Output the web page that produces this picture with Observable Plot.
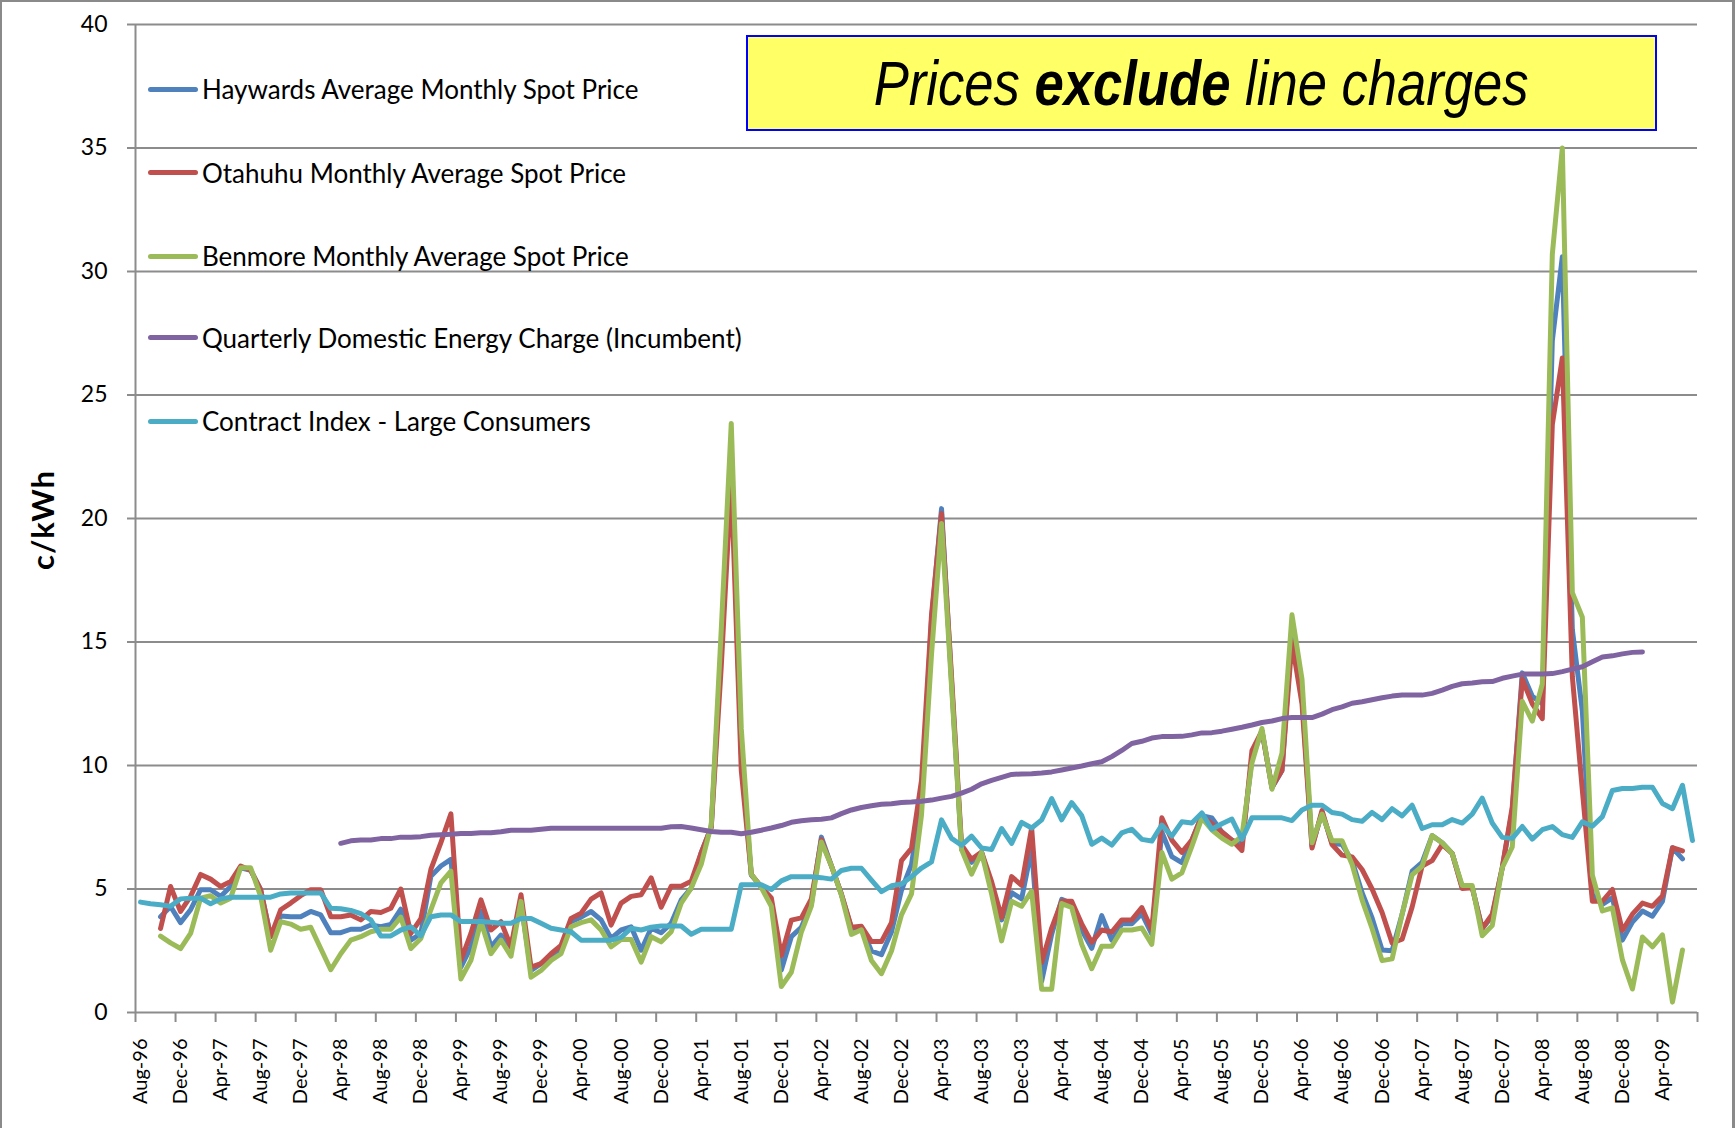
<!DOCTYPE html>
<html><head><meta charset="utf-8">
<script src="https://cdn.jsdelivr.net/npm/d3@7"></script>
<script src="https://cdn.jsdelivr.net/npm/@observablehq/plot@0.6"></script>
<style>
body{margin:0;background:#fff;}
#wrap{position:relative;width:1735px;height:1128px;overflow:hidden;font-family:Lato,sans-serif;background:#fff;}
#chart{position:absolute;left:0;top:0;}
.border{position:absolute;left:0;top:0;width:1735px;height:1128px;box-sizing:border-box;border-left:2px solid #8a8a8a;border-top:2px solid #8a8a8a;border-right:3px solid #8a8a8a;pointer-events:none;}
.leg{position:absolute;left:148px;height:40px;display:flex;align-items:center;font-size:26px;color:#000;white-space:nowrap;}
.leg .sw{width:50px;height:5px;border-radius:3px;margin-right:4px;}
#note{position:absolute;left:746px;top:35px;width:911px;height:96px;box-sizing:border-box;background:#ffff66;border:2px solid #0000ff;display:flex;align-items:center;justify-content:center;font-family:"Liberation Sans",Arial,sans-serif;font-style:italic;font-size:63px;color:#000;white-space:nowrap;}
#note span{display:inline-block;transform:scaleX(0.835);}
#ytitle{position:absolute;left:42px;top:520px;transform:translate(-50%,-50%) rotate(-90deg);font-weight:bold;font-size:31px;white-space:nowrap;letter-spacing:1px;}
</style></head><body><div id="wrap"><div id="chart"></div></div>
<script>
// Month categories: Aug-96 (index 0) ... Jul-09 (index 155)
const tickLabels = ["Aug-96","Dec-96","Apr-97","Aug-97","Dec-97","Apr-98","Aug-98","Dec-98","Apr-99","Aug-99","Dec-99","Apr-00","Aug-00","Dec-00","Apr-01","Aug-01","Dec-01","Apr-02","Aug-02","Dec-02","Apr-03","Aug-03","Dec-03","Apr-04","Aug-04","Dec-04","Apr-05","Aug-05","Dec-05","Apr-06","Aug-06","Dec-06","Apr-07","Aug-07","Dec-07","Apr-08","Aug-08","Dec-08","Apr-09"];
const yTicks = [0,5,10,15,20,25,30,35,40];

const haywards = [null,null,3.88,4.29,3.64,4.16,4.97,4.97,4.7,5.1,
 5.86,5.76,4.97,3.07,3.91,3.88,3.88,4.09,3.95,3.23,
 3.23,3.37,3.37,3.54,3.47,3.57,4.18,2.93,3.2,5.52,
 5.93,6.2,1.84,2.66,4.09,2.66,3.13,2.66,4.43,1.7,
 1.98,2.3,2.59,3.68,3.86,4.09,3.75,3.0,3.34,3.47,
 2.52,3.41,3.23,3.61,4.56,5.04,6.47,7.5,14.8,22.5,
 10.5,5.56,5.1,4.5,1.72,3.07,3.45,4.4,7.1,5.94,
 4.79,3.4,3.45,2.49,2.34,3.26,4.95,6.0,8.6,15.9,
 20.4,13.4,6.6,6.08,6.48,5.1,3.75,4.85,4.6,6.64,
 1.27,3.17,4.58,4.41,3.34,2.6,3.92,2.93,3.59,3.59,
 4.0,3.17,7.31,6.31,6.07,6.98,7.97,7.88,7.31,6.98,
 6.81,10.3,11.4,9.1,9.8,15.5,12.8,6.73,8.1,6.85,
 6.8,6.15,4.85,3.83,2.53,2.5,3.98,5.72,6.08,7.16,
 6.87,6.44,5.07,5.07,3.4,3.9,5.86,8.18,13.75,12.8,
 12.5,27.2,30.6,15.5,12.2,4.77,4.38,4.64,2.93,3.66,
 4.11,3.9,4.5,6.67,6.22,null];

const otahuhu = [null,null,3.4,5.1,4.09,4.7,5.59,5.4,5.1,5.3,
 5.93,5.76,4.97,3.07,4.16,4.43,4.73,4.97,4.97,3.88,
 3.88,3.95,3.75,4.09,4.05,4.22,5.0,3.2,3.8,5.79,
 6.88,8.04,2.11,3.2,4.56,3.34,3.68,2.66,4.77,1.84,
 1.98,2.38,2.72,3.81,4.02,4.59,4.84,3.54,4.43,4.7,
 4.77,5.45,4.26,5.11,5.11,5.31,6.47,7.5,14.0,21.6,
 9.8,5.6,5.08,4.64,2.3,3.74,3.83,4.6,7.0,5.94,
 4.79,3.45,3.49,2.87,2.87,3.64,6.15,6.65,9.4,16.1,
 20.2,13.6,6.78,6.2,6.5,5.3,3.85,5.5,5.15,7.47,
 2.02,3.42,4.5,4.5,3.59,2.84,3.34,3.26,3.75,3.75,
 4.25,3.34,7.88,6.98,6.48,6.98,7.97,7.64,7.31,6.98,
 6.56,10.6,11.4,9.12,9.8,15.0,12.5,6.66,8.18,6.8,
 6.37,6.3,5.79,5.0,4.05,2.82,2.97,4.27,5.93,6.15,
 6.8,6.44,5.02,5.05,3.4,3.98,5.86,8.32,13.5,12.5,
 11.9,23.8,26.5,13.6,9.0,4.5,4.5,4.98,3.32,3.98,
 4.43,4.3,4.72,6.67,6.54,null];

const benmore = [null,null,3.09,2.82,2.59,3.2,4.63,4.73,4.43,4.63,
 5.86,5.86,4.7,2.52,3.68,3.58,3.37,3.45,2.59,1.73,
 2.38,2.93,3.07,3.27,3.37,3.37,3.86,2.59,3.0,4.16,
 5.25,5.72,1.36,2.11,3.68,2.38,2.93,2.28,4.5,1.43,
 1.7,2.11,2.38,3.47,3.64,3.75,3.34,2.66,2.96,2.96,
 2.04,3.07,2.86,3.27,4.43,5.04,6.0,7.6,15.5,23.85,
 11.5,5.6,5.06,4.3,1.05,1.63,3.26,4.31,6.9,5.94,
 4.75,3.16,3.35,2.11,1.57,2.49,3.95,4.8,8.0,14.5,
 19.8,13.2,6.6,5.6,6.48,4.8,2.9,4.5,4.3,4.91,
 0.94,0.94,4.41,4.25,2.76,1.77,2.68,2.68,3.34,3.34,
 3.42,2.76,6.48,5.4,5.65,6.73,7.88,7.39,7.06,6.81,
 7.14,10.1,11.5,9.04,10.5,16.1,13.5,6.87,8.03,6.95,
 6.95,6.0,4.56,3.4,2.1,2.17,3.98,5.57,5.93,7.16,
 6.87,6.44,5.14,5.14,3.11,3.52,5.86,6.7,12.6,11.8,
 13.3,30.7,35.0,17.0,16.0,5.56,4.11,4.24,2.13,0.95,
 3.06,2.66,3.14,0.42,2.53,null];

const quarterly = [null,null,null,null,null,null,null,null,null,null,
 null,null,null,null,null,null,null,null,null,null,
 6.85,6.95,6.98,6.98,7.04,7.04,7.1,7.1,7.12,7.18,
 7.2,7.22,7.25,7.25,7.28,7.28,7.32,7.38,7.38,7.38,
 7.42,7.46,7.46,7.46,7.46,7.46,7.46,7.46,7.46,7.46,
 7.46,7.46,7.46,7.52,7.53,7.47,7.4,7.33,7.3,7.3,
 7.24,7.3,7.38,7.47,7.57,7.7,7.76,7.8,7.82,7.88,
 8.05,8.2,8.3,8.37,8.43,8.45,8.5,8.52,8.55,8.6,
 8.68,8.75,8.88,9.04,9.26,9.4,9.52,9.64,9.66,9.67,
 9.7,9.74,9.82,9.9,9.98,10.07,10.15,10.36,10.61,10.89,
 10.98,11.11,11.17,11.17,11.18,11.24,11.32,11.33,11.39,11.47,
 11.55,11.64,11.74,11.8,11.9,11.94,11.94,11.94,12.08,12.26,
 12.37,12.52,12.58,12.66,12.74,12.81,12.85,12.85,12.85,12.92,
 13.05,13.2,13.31,13.34,13.39,13.4,13.53,13.62,13.7,13.7,
 13.7,13.72,13.8,13.9,14.0,14.2,14.39,14.44,14.52,14.58,
 14.6,null,null,null,null,null];

const contract = [4.47,4.4,4.36,4.3,4.6,4.63,4.63,4.4,4.6,4.67,
 4.67,4.67,4.67,4.67,4.8,4.84,4.84,4.84,4.84,4.22,
 4.2,4.13,4.0,3.75,3.1,3.1,3.34,3.47,3.1,3.88,
 3.95,3.95,3.68,3.68,3.68,3.65,3.61,3.61,3.81,3.81,
 3.61,3.41,3.34,3.27,2.93,2.93,2.93,2.93,3.04,3.41,
 3.34,3.45,3.5,3.5,3.5,3.17,3.37,3.37,3.37,3.37,
 5.17,5.17,5.17,4.98,5.33,5.5,5.5,5.5,5.46,5.4,
 5.75,5.84,5.84,5.36,4.89,5.13,5.2,5.5,5.85,6.1,
 7.8,7.05,6.77,7.14,6.66,6.6,7.45,6.85,7.7,7.47,
 7.8,8.66,7.8,8.5,7.97,6.81,7.06,6.78,7.27,7.42,
 7.01,6.94,7.59,7.14,7.72,7.67,8.08,7.42,7.64,7.83,
 7.01,7.88,7.88,7.88,7.88,7.77,8.2,8.39,8.39,8.1,
 8.03,7.81,7.74,8.1,7.81,8.25,7.96,8.39,7.45,7.6,
 7.6,7.81,7.67,8.03,8.68,7.67,7.09,7.05,7.53,7.02,
 7.4,7.53,7.2,7.09,7.72,7.54,7.93,8.99,9.07,9.07,
 9.12,9.12,8.46,8.25,9.2,6.96];

const seriesNames = ["Haywards Average Monthly Spot Price","Otahuhu Monthly Average Spot Price","Benmore Monthly Average Spot Price","Quarterly Domestic Energy Charge (Incumbent)","Contract Index - Large Consumers"];
const seriesValues = [haywards, otahuhu, benmore, quarterly, contract];
const seriesColors = ["#4F81BD","#C0504D","#9BBB59","#8064A2","#4BACC6"];

const nMonths = contract.length;
const tickPos = d3.range(0, nMonths + 1, 4);
const labelPos = tickLabels.map((_, k) => k * 4 + 0.5);

const lineMarks = seriesValues.map((vals, s) =>
  Plot.line(vals.map((v, i) => ({i: i + 0.5, v})), {
    x: "i", y: "v", stroke: seriesColors[s], strokeWidth: 5,
    strokeLinejoin: "round", strokeLinecap: "round"
  })
);

const grey = "#8c8c8c";
const chart = Plot.plot({
  width: 1735, height: 1128,
  marginLeft: 135, marginRight: 38, marginTop: 24, marginBottom: 116,
  style: {fontFamily: "Lato, sans-serif", background: "transparent", color: "#000"},
  x: {domain: [0, nMonths]},
  y: {domain: [0, 40]},
  marks: [
    Plot.ruleY(yTicks.filter(d => d > 0), {stroke: grey, strokeWidth: 2}),
    Plot.axisY({ticks: yTicks, tickSize: 8, tickPadding: 20, fontSize: 23, label: null, stroke: grey, strokeWidth: 2, fill: "#000"}),
    Plot.axisX({ticks: tickPos, tickSize: 10, tickFormat: () => "", label: null, stroke: grey, strokeWidth: 2}),
    Plot.axisX({ticks: labelPos, tickSize: 0, tickPadding: 26, tickRotate: -90, fontSize: 20, label: null, fill: "#000",
      tickFormat: d => tickLabels[Math.round((d - 0.5) / 4)]}),
    Plot.ruleX([0], {stroke: grey, strokeWidth: 2}),
    Plot.ruleY([0], {stroke: grey, strokeWidth: 2}),
    ...lineMarks
  ]
});
document.getElementById("chart").appendChild(chart);

const wrap = document.getElementById("wrap");
// legend (inside plot area)
const legendCenters = [89, 172.7, 256, 337.7, 421];
seriesNames.forEach((name, s) => {
  const row = document.createElement("div");
  row.className = "leg";
  row.style.top = (legendCenters[s] - 20) + "px";
  const sw = document.createElement("div");
  sw.className = "sw";
  sw.style.background = seriesColors[s];
  const tx = document.createElement("span");
  tx.textContent = name;
  row.appendChild(sw); row.appendChild(tx);
  wrap.appendChild(row);
});
// note box
const note = document.createElement("div");
note.id = "note";
note.innerHTML = '<span>Prices <b>exclude</b> line charges</span>';
wrap.appendChild(note);
// y title
const yt = document.createElement("div");
yt.id = "ytitle";
yt.textContent = "c/kWh";
wrap.appendChild(yt);
const b = document.createElement("div");
b.className = "border";
wrap.appendChild(b);
</script></body></html>
